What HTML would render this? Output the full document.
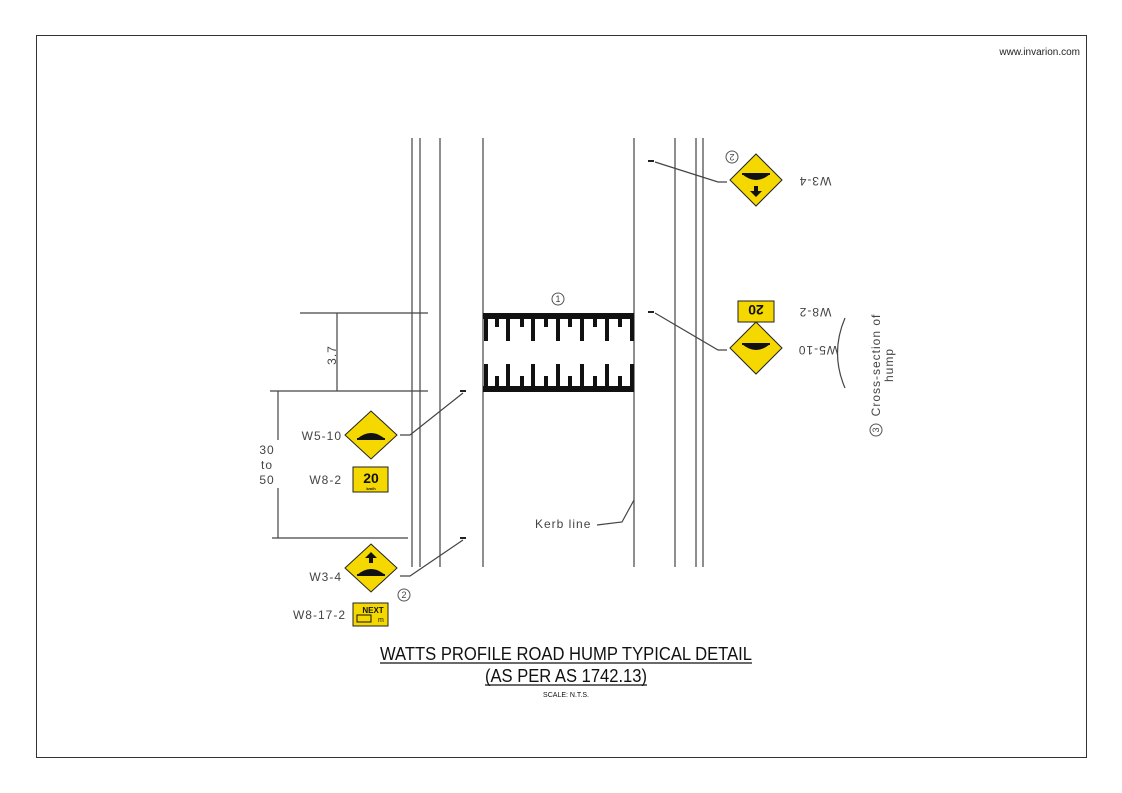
<!DOCTYPE html>
<html><head><meta charset="utf-8"><style>
body{margin:0;background:#fff;}
svg{display:block;font-family:"Liberation Sans",sans-serif;}
</style></head><body>
<svg width="1122" height="793" viewBox="0 0 1122 793" xmlns="http://www.w3.org/2000/svg">
<rect x="36.5" y="35.5" width="1050" height="722" fill="#fff" stroke="#333" stroke-width="1"/>
<text x="1080" y="55" font-size="10" text-anchor="end" fill="#222">www.invarion.com</text>
<g stroke="#444" stroke-width="1.2" fill="none">
<line x1="412" y1="138" x2="412" y2="567"/>
<line x1="420" y1="138" x2="420" y2="567"/>
<line x1="440" y1="138" x2="440" y2="567"/>
<line x1="483" y1="138" x2="483" y2="567"/>
<line x1="634" y1="138" x2="634" y2="567"/>
<line x1="675" y1="138" x2="675" y2="567"/>
<line x1="696" y1="138" x2="696" y2="567"/>
<line x1="703" y1="138" x2="703" y2="567"/>
<line x1="300" y1="313" x2="428" y2="313"/>
<line x1="337" y1="313" x2="337" y2="391"/>
<line x1="270" y1="391" x2="428" y2="391"/>
<line x1="278" y1="391" x2="278" y2="440"/>
<line x1="278" y1="488" x2="278" y2="538"/>
<line x1="272" y1="538" x2="408" y2="538"/>
<polyline points="400,435 410,435 463,393"/>
<polyline points="400,576 410,576 463,540"/>
<polyline points="727,182 718,182 655,162"/>
<polyline points="727,350 718,350 655,313"/>
<polyline points="597,525 622,522 634,500"/>
<path d="M845,388 Q830,353 845,318" />
</g>
<g fill="#222">
<rect x="460" y="390" width="6" height="2"/><rect x="460" y="537" width="6" height="2"/>
<rect x="648" y="160" width="6" height="2"/><rect x="648" y="311" width="6" height="2"/>
</g>
<g fill="#111">
<rect x="483" y="313" width="151" height="6"/>
<rect x="483" y="386" width="151" height="6"/>
<rect x="484" y="313" width="4" height="28"/><rect x="506" y="313" width="4" height="28"/><rect x="531" y="313" width="4" height="28"/><rect x="556" y="313" width="4" height="28"/><rect x="580" y="313" width="4" height="28"/><rect x="605" y="313" width="4" height="28"/><rect x="630" y="313" width="4" height="28"/>
<rect x="495" y="313" width="4" height="14"/><rect x="520" y="313" width="4" height="14"/><rect x="544" y="313" width="4" height="14"/><rect x="568" y="313" width="4" height="14"/><rect x="593" y="313" width="4" height="14"/><rect x="618" y="313" width="4" height="14"/>
<rect x="484" y="364" width="4" height="28"/><rect x="506" y="364" width="4" height="28"/><rect x="531" y="364" width="4" height="28"/><rect x="556" y="364" width="4" height="28"/><rect x="580" y="364" width="4" height="28"/><rect x="605" y="364" width="4" height="28"/><rect x="630" y="364" width="4" height="28"/>
<rect x="495" y="376" width="4" height="16"/><rect x="520" y="376" width="4" height="16"/><rect x="544" y="376" width="4" height="16"/><rect x="568" y="376" width="4" height="16"/><rect x="593" y="376" width="4" height="16"/><rect x="618" y="376" width="4" height="16"/>
</g>
<g fill="none" stroke="#555" stroke-width="1">
<circle cx="558" cy="299" r="6"/><circle cx="404" cy="595" r="6"/><circle cx="732" cy="157" r="6"/><circle cx="876" cy="430" r="6"/>
</g>
<g font-size="9" fill="#444" text-anchor="middle">
<text x="558" y="302">1</text><text x="404" y="598">2</text>
<text x="732" y="160" transform="rotate(180 732 157)">2</text>
<text x="876" y="433" transform="rotate(-90 876 430)">3</text>
</g>
<g font-size="12" fill="#444" letter-spacing="1">
<text x="331" y="360" transform="rotate(-90 331 355)" text-anchor="middle">3.7</text>
<text x="267" y="454" text-anchor="middle">30</text>
<text x="267" y="469" text-anchor="middle">to</text>
<text x="267" y="484" text-anchor="middle">50</text>
<text x="342" y="440" text-anchor="end">W5-10</text>
<text x="342" y="484" text-anchor="end">W8-2</text>
<text x="342" y="581" text-anchor="end">W3-4</text>
<text x="346" y="619" text-anchor="end">W8-17-2</text>
<text x="535" y="528">Kerb line</text>
<text x="815" y="185" text-anchor="middle" transform="rotate(180 815 181)">W3-4</text>
<text x="815" y="316" text-anchor="middle" transform="rotate(180 815 312)">W8-2</text>
<text x="818" y="354" text-anchor="middle" transform="rotate(180 818 350)">W5-10</text>
<text x="0" y="0" transform="translate(880,365) rotate(-90)" text-anchor="middle">Cross-section of</text>
<text x="0" y="0" transform="translate(893,365) rotate(-90)" text-anchor="middle">hump</text>
</g>
<g stroke="#222" stroke-width="1">
<polygon points="371,411 397,435 371,459 345,435" fill="#f5d800"/>
<polygon points="371,544 397,568 371,592 345,568" fill="#f5d800"/>
<polygon points="756,154 782,180 756,206 730,180" fill="#f5d800"/>
<polygon points="756,322 782,348 756,374 730,348" fill="#f5d800"/>
<rect x="353" y="467" width="35" height="25" fill="#f5d800"/>
<rect x="353" y="603" width="35" height="23" fill="#f5d800"/>
<rect x="738" y="301" width="36" height="21" fill="#f5d800"/>
</g>
<g fill="#111">
<path d="M357,439 Q371,427 385,439 Z"/><rect x="357" y="438" width="28" height="2"/>
<path d="M357,575 Q371,563 385,575 Z"/><rect x="357" y="574" width="28" height="2"/>
<polygon points="371,552 377,558 373,558 373,563 369,563 369,558 365,558"/>
<path d="M742,174 Q756,186 770,174 Z"/><rect x="742" y="173" width="28" height="2"/>
<polygon points="756,197 750,191 754,191 754,186 758,186 758,191 762,191"/>
<path d="M742,344 Q756,356 770,344 Z"/><rect x="742" y="343" width="28" height="2"/>
</g>
<g fill="#111" font-weight="bold" text-anchor="middle">
<text x="371" y="483" font-size="14">20</text>
<text x="371" y="490" font-size="4">km/h</text>
<text x="373" y="613" font-size="8">NEXT</text>
<text x="756" y="317" font-size="14" transform="rotate(180 756 311)">20</text>
</g>
<rect x="357" y="615" width="14" height="7" fill="none" stroke="#111"/>
<text x="378" y="622" font-size="7" fill="#111">m</text>
<g fill="#111" text-anchor="middle">
<text x="566" y="660" font-size="18" textLength="372" lengthAdjust="spacingAndGlyphs">WATTS PROFILE ROAD HUMP TYPICAL DETAIL</text>
<line x1="380" y1="663" x2="752" y2="663" stroke="#111" stroke-width="1.2"/>
<text x="566" y="682" font-size="18" textLength="162" lengthAdjust="spacingAndGlyphs">(AS PER AS 1742.13)</text>
<line x1="485" y1="685" x2="647" y2="685" stroke="#111" stroke-width="1.2"/>
<text x="566" y="697" font-size="7">SCALE: N.T.S.</text>
</g>
</svg>
</body></html>
